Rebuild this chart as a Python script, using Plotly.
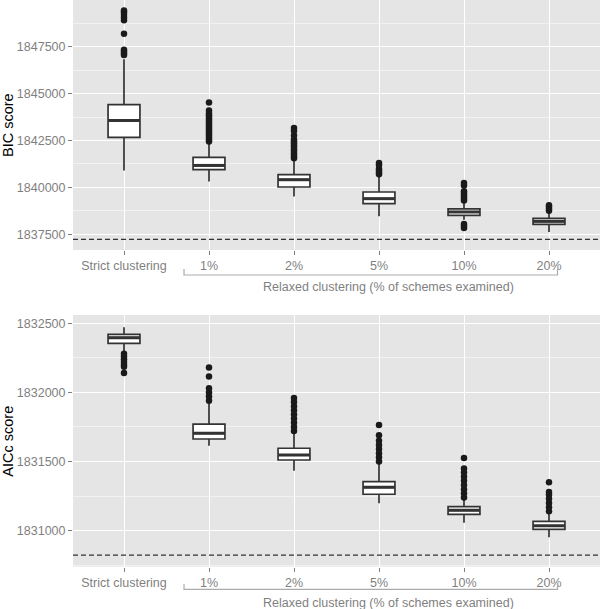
import plotly.graph_objects as go

categories = ["Strict clustering", "1%", "2%", "5%", "10%", "20%"]

# BIC panel (top)
bic_q1 = [1842660, 1840942, 1840021, 1839133, 1838511, 1838032]
bic_median = [1843564, 1841170, 1840410, 1839399, 1838692, 1838192]
bic_q3 = [1844415, 1841596, 1840676, 1839756, 1838851, 1838351]
bic_lower = [1840904, 1840319, 1839521, 1838458, 1838282, 1837628]
bic_upper = [1846830, 1842362, 1841473, 1840585, 1839170, 1838638]
bic_outliers = [
    [1847060, 1847150, 1847250, 1847330, 1848180, 1848900, 1849050, 1849200, 1849330, 1849420],
    [1842450, 1842550, 1842650, 1842750, 1842850, 1842950, 1843050, 1843150, 1843250,
     1843350, 1843450, 1843550, 1843650, 1843750, 1843850, 1843950, 1844100, 1844520],
    [1841550, 1841650, 1841750, 1841850, 1841950, 1842050, 1842150, 1842250, 1842350,
     1842450, 1842550, 1842770, 1843000, 1843160],
    [1840700, 1840800, 1840900, 1841000, 1841200, 1841300],
    [1839300, 1839400, 1839500, 1839600, 1839700, 1839800, 1840100, 1840240,
     1837840, 1837950, 1838050],
    [1838750, 1838850, 1838950, 1839050],
]
bic_reference = 1837230

# AICc panel (bottom)
aic_q1 = [1832355, 1831663, 1831511, 1831263, 1831118, 1831009]
aic_median = [1832396, 1831704, 1831547, 1831313, 1831147, 1831035]
aic_q3 = [1832420, 1831771, 1831596, 1831354, 1831173, 1831067]
aic_lower = [1832300, 1831614, 1831433, 1831198, 1831057, 1830952]
aic_upper = [1832471, 1831921, 1831704, 1831487, 1831221, 1831125]
aic_outliers = [
    [1832280, 1832260, 1832240, 1832220, 1832200, 1832185, 1832140],
    [1831940, 1831970, 1832000, 1832030, 1832115, 1832180],
    [1831720, 1831750, 1831780, 1831810, 1831840, 1831870, 1831900, 1831930, 1831960],
    [1831500, 1831530, 1831560, 1831590, 1831620, 1831650, 1831690, 1831765],
    [1831240, 1831270, 1831300, 1831330, 1831360, 1831390, 1831420, 1831450, 1831525],
    [1831140, 1831170, 1831200, 1831230, 1831260, 1831280, 1831350],
]
aic_reference = 1830823

FONT = "Liberation Sans"
GREY_TXT = "#7f7f7f"
BOX_W = 0.375
xpos = list(range(len(categories)))

fig = go.Figure()


def add_panel(xa, ya, q1, med, q3, lo, hi, outl, ref):
    fig.add_trace(go.Box(
        x=xpos, q1=q1, median=med, q3=q3, lowerfence=lo, upperfence=hi,
        width=BOX_W, fillcolor="white", line=dict(color="#333333", width=1.7),
        whiskerwidth=0, boxpoints=False, xaxis=xa, yaxis=ya, showlegend=False,
        hoverinfo="skip"))
    for i, m in enumerate(med):
        fig.add_trace(go.Scatter(
            x=[i - BOX_W / 2, i + BOX_W / 2], y=[m, m], mode="lines",
            line=dict(color="#333333", width=3), xaxis=xa, yaxis=ya,
            showlegend=False, hoverinfo="skip"))
    ox, oy = [], []
    for i, vals in enumerate(outl):
        ox += [i] * len(vals)
        oy += vals
    fig.add_trace(go.Scatter(
        x=ox, y=oy, mode="markers", marker=dict(color="#1a1a1a", size=6.5),
        xaxis=xa, yaxis=ya, showlegend=False, hoverinfo="skip"))
    fig.add_trace(go.Scatter(
        x=[-0.6, 5.6], y=[ref, ref], mode="lines",
        line=dict(color="#333333", width=1.3, dash="5px,3px"),
        xaxis=xa, yaxis=ya, showlegend=False, hoverinfo="skip"))


add_panel("x", "y", bic_q1, bic_median, bic_q3, bic_lower, bic_upper, bic_outliers, bic_reference)
add_panel("x2", "y2", aic_q1, aic_median, aic_q3, aic_lower, aic_upper, aic_outliers, aic_reference)

H = 609.0


def py(px):
    return (H - px) / H


xcommon = dict(
    range=[-0.6, 5.6], tickmode="array", tickvals=xpos, ticktext=categories,
    showgrid=True, gridcolor="white", gridwidth=1.2, zeroline=False,
    ticks="outside", ticklen=4, tickcolor=GREY_TXT, tickwidth=1,
    tickfont=dict(family=FONT, size=12.5, color=GREY_TXT), showline=False,
    automargin=False,
)
ycommon = dict(
    showgrid=True, gridcolor="white", gridwidth=1.2, zeroline=False,
    ticks="outside", ticklen=4, tickcolor=GREY_TXT, tickwidth=1,
    tickfont=dict(family=FONT, size=12.5, color=GREY_TXT), tickformat="d",
    showline=False, automargin=False,
)

fig.update_layout(
    width=600, height=609,
    margin=dict(l=73, r=0, t=0, b=0, autoexpand=False),
    paper_bgcolor="white", plot_bgcolor="#E5E5E5",
    xaxis=dict(domain=[0, 1], anchor="y", **xcommon),
    xaxis2=dict(domain=[0, 1], anchor="y2", **xcommon),
    yaxis=dict(domain=[py(250), 1.0], anchor="x", range=[1836665, 1849984],
               tick0=0, dtick=2500,
               minor=dict(dtick=1250, tick0=0, showgrid=True, gridcolor="#F2F2F2", gridwidth=0.6, ticks=""),
               **ycommon),
    yaxis2=dict(domain=[py(566.7), py(315)], anchor="x2", range=[1830739, 1832560],
                tick0=0, dtick=500,
                minor=dict(dtick=250, tick0=0, showgrid=True, gridcolor="#F2F2F2", gridwidth=0.6, ticks=""),
                **ycommon),
)

# y axis titles
for txt, ypx in [("BIC score", 125), ("AICc score", 441.7)]:
    fig.add_annotation(text=txt, xref="paper", yref="paper", x=(8 - 73) / 527.0,
                       y=py(ypx), textangle=-90, showarrow=False,
                       xanchor="center", yanchor="middle",
                       font=dict(family=FONT, size=14.5, color="black"))

# brackets for relaxed clustering
bx0, bx1 = 0.706, 5.1
for xa, hline, vtop, textpx in [("x", 275, 269, 287), ("x2", 589.3, 584, 602.7)]:
    fig.add_shape(type="path", xref=xa, yref="paper",
                  path=f"M {bx0} {py(vtop)} L {bx0} {py(hline)} L {bx1} {py(hline)} L {bx1} {py(vtop)}",
                  line=dict(color="#ababab", width=1.2))
    fig.add_annotation(text="Relaxed clustering (% of schemes examined)", xref=xa, yref="paper",
                       x=3.106, y=py(textpx), showarrow=False, xanchor="center", yanchor="middle",
                       font=dict(family=FONT, size=12.5, color=GREY_TXT))

fig.write_html("out.html", config={"displayModeBar": False},
               post_script="document.body.style.margin='0';document.body.style.overflow='hidden';")
